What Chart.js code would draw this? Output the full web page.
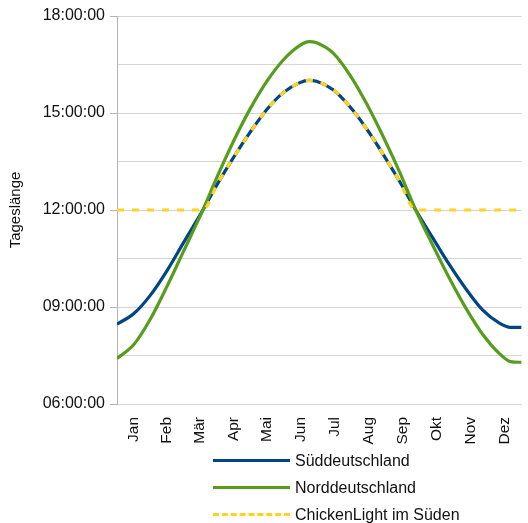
<!DOCTYPE html>
<html>
<head>
<meta charset="utf-8">
<script src="https://cdn.jsdelivr.net/npm/chart.js@4"></script>
<style>
  body { margin: 0; background: #fff; font-family: "Liberation Sans", Arial, sans-serif; }
  #wrap { position: relative; width: 528px; height: 523px; }
  .legend { position: absolute; left: 213px; top: 447px; }
  .item { height: 27px; display: flex; align-items: center; font-size: 16px; color: #111; }
  .sample { width: 77px; height: 0; margin-right: 5px; border-top: 3px solid; }
</style>
</head>
<body>
<div id="wrap">
  <canvas id="chart" width="528" height="523"></canvas>
  <div class="legend">
    <div class="item"><span class="sample" style="border-color:#004586"></span>Süddeutschland</div>
    <div class="item"><span class="sample" style="border-color:#579d1c"></span>Norddeutschland</div>
    <div class="item"><span class="sample" style="border-top:3px dashed #ffd320"></span>ChickenLight im Süden</div>
  </div>
</div>
<script>
// Tag im Jahr (0 = 1. Jan) und Tageslänge in Stunden
const tage = [0, 15, 30, 45, 60, 75, 77.5, 90, 105, 120, 135, 150, 165, 173, 180, 195, 210, 225, 240, 255, 269.5, 285, 300, 315, 330, 345, 355, 365];
const sueden = [8.47, 8.79, 9.36, 10.12, 10.99, 11.85, 12.00, 12.77, 13.62, 14.40, 15.10, 15.63, 15.94, 16.01, 15.98, 15.72, 15.20, 14.52, 13.73, 12.88, 12.00, 11.13, 10.30, 9.55, 8.90, 8.50, 8.37, 8.37];
const norden = [7.41, 7.83, 8.62, 9.63, 10.72, 11.81, 12.00, 13.00, 14.12, 15.12, 15.97, 16.64, 17.09, 17.21, 17.17, 16.85, 16.18, 15.30, 14.28, 13.17, 12.00, 10.90, 9.88, 8.95, 8.15, 7.56, 7.31, 7.29];
const chicken = [12, 12, 12, 12, 12, 12, 12.00, 12.77, 13.62, 14.40, 15.10, 15.63, 15.94, 16.01, 15.98, 15.72, 15.20, 14.52, 13.73, 12.88, 12.00, 12, 12, 12, 12, 12, 12, 12];
const monate = ['Jan', 'Feb', 'Mär', 'Apr', 'Mai', 'Jun', 'Jul', 'Aug', 'Sep', 'Okt', 'Nov', 'Dez'];
const monatsMitte = [15.5, 45, 74.5, 105, 135.5, 166, 196.5, 227.5, 258, 288.5, 319, 349.5];

const punkte = (werte) => tage.map((t, i) => ({ x: t, y: werte[i] }));
const pad = (n) => String(n).padStart(2, '0');

new Chart(document.getElementById('chart'), {
    type: 'line',
    data: {
        datasets: [{
            label: 'Süddeutschland',
            data: punkte(sueden),
            borderColor: '#004586',
            borderWidth: 3.2,
            order: 2
        },
        {
            label: 'Norddeutschland',
            data: punkte(norden),
            borderColor: '#579d1c',
            borderWidth: 3.2,
            order: 1
        },
        {
            label: 'ChickenLight im Süden',
            data: punkte(chicken),
            borderColor: '#ffd320',
            borderWidth: 3.2,
            borderDash: [7, 8],
            order: 0
        }]
    },
    options: {
        responsive: false,
        animation: false,
        cubicInterpolationMode: 'monotone',
        elements: { point: { radius: 0 } },
        layout: { padding: { top: 16, right: 0, bottom: 74, left: 0 } },
        plugins: {
            legend: { display: false },
            tooltip: { enabled: false }
        },
        scales: {
            x: {
                type: 'linear',
                min: 0,
                max: 365,
                afterBuildTicks: (s) => { s.ticks = monatsMitte.map(v => ({ value: v })) },
                afterFit: (s) => { s.height = 45 },
                grid: { display: false },
                border: { display: false },
                ticks: {
                    minRotation: 90,
                    maxRotation: 90,
                    autoSkip: false,
                    padding: 5,
                    color: '#111',
                    font: { family: 'Liberation Sans', size: 15.5 },
                    callback: (v) => monate[monatsMitte.indexOf(v)]
                }
            },
            y: {
                min: 6,
                max: 18,
                afterFit: (s) => { s.width = 117 },
                grid: {
                    color: '#d4d4d4',
                    lineWidth: 1,
                    tickLength: 7,
                    tickColor: (c) => c.tick && c.tick.value % 3 === 0 ? '#b3b3b3' : 'rgba(0,0,0,0)'
                },
                border: { color: '#b3b3b3' },
                ticks: {
                    stepSize: 1.5,
                    padding: 5,
                    color: '#111',
                    font: { family: 'Liberation Sans', size: 16 },
                    callback: (v) => v % 3 === 0 ? pad(v) + ':00:00' : ''
                },
                title: {
                    display: true,
                    text: 'Tageslänge',
                    color: '#111',
                    font: { family: 'Liberation Sans', size: 15 },
                    padding: { top: 7, bottom: 0 }
                }
            }
        }
    }
});
</script>
</body>
</html>
